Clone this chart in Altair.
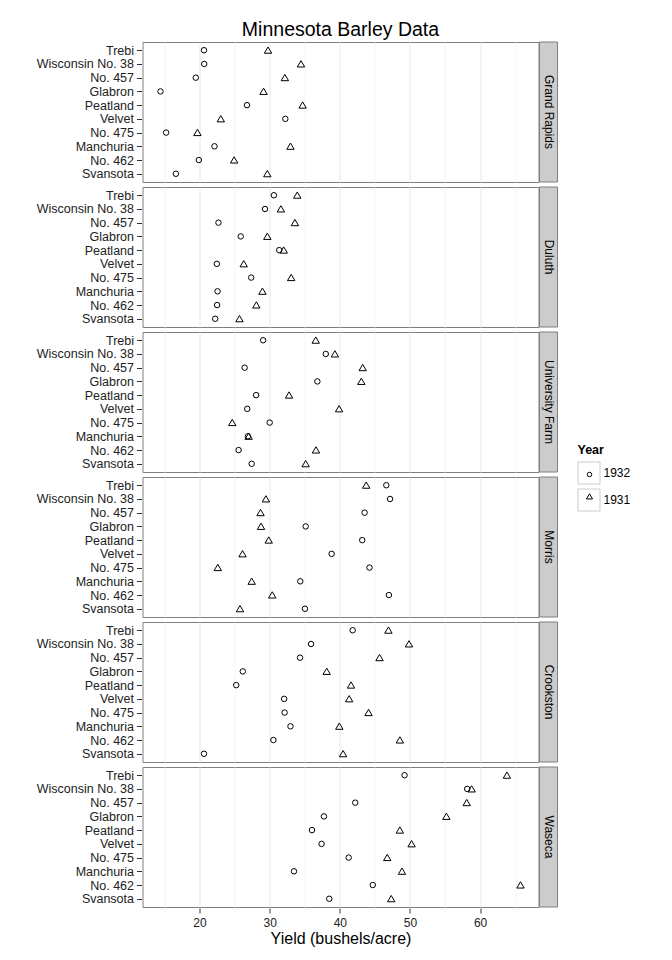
import altair as alt
import pandas as pd

sites = ["Grand Rapids", "Duluth", "University Farm", "Morris", "Crookston", "Waseca"]
varieties = ["Trebi", "Wisconsin No. 38", "No. 457", "Glabron", "Peatland",
             "Velvet", "No. 475", "Manchuria", "No. 462", "Svansota"]
years = ["1932", "1931"]

yield_1932 = {
    "Grand Rapids": [20.63333, 20.66667, 19.46667, 14.43333, 26.76667, 32.23333, 15.23333, 22.13333, 19.9, 16.63333],
    "Duluth": [30.6, 29.33333, 22.7, 25.86667, 31.36667, 22.46667, 27.36667, 22.56667, 22.5, 22.23333],
    "University Farm": [29.06667, 38.0, 26.43334, 36.8, 28.06667, 26.8, 30.0, 26.9, 25.56667, 27.43334],
    "Morris": [46.63333, 47.16667, 43.53334, 35.13333, 43.2, 38.83333, 44.23333, 34.36666, 47.0, 35.03333],
    "Crookston": [41.83333, 35.9, 34.33333, 26.16667, 25.23333, 32.06666, 32.13333, 32.96667, 30.53333, 20.63333],
    "Waseca": [49.2333, 58.16667, 42.2, 37.73333, 36.03333, 37.4, 41.26667, 33.46667, 44.7, 38.5],
}
yield_1931 = {
    "Grand Rapids": [29.76667, 34.46667, 32.16667, 29.13333, 34.7, 23.03333, 19.7, 32.96667, 24.93334, 29.66667],
    "Duluth": [33.93333, 31.6, 33.6, 29.66667, 32.0, 26.3, 33.06666, 28.96667, 28.1, 25.7],
    "University Farm": [36.56666, 39.3, 43.26667, 43.06666, 32.76667, 39.9, 24.66667, 27.0, 36.6, 35.13333],
    "Morris": [43.76667, 29.46667, 28.7, 28.76667, 29.86667, 26.13333, 22.6, 27.43334, 30.36667, 25.76667],
    "Crookston": [46.93333, 49.86667, 45.66667, 38.13333, 41.6, 41.33333, 44.1, 39.93333, 48.56666, 40.46667],
    "Waseca": [63.8333, 58.8, 58.1, 55.2, 48.56666, 50.23333, 46.76667, 48.86667, 65.7667, 47.33333],
}
x_ticks = [15, 20, 25, 30, 35, 40, 45, 50, 55, 60, 65]

rows = []
for s in sites:
    for yr, src in (("1932", yield_1932), ("1931", yield_1931)):
        for v, val in zip(varieties, src[s]):
            rows.append({"site": s, "variety": v, "year": yr, "Year": yr, "yield": val})
df = pd.DataFrame(rows)

FONT = "Liberation Sans"
W, H = 396, 140
lo = min(df["yield"]); hi = max(df["yield"]); pad = (hi - lo) * 0.05

LEG_X, LEG_Y = 435, 402
TRIANGLE = "M0,-1.2L1.35,1.1L-1.35,1.1Z"

points = alt.Chart().mark_point(filled=False, strokeWidth=1, color="black", opacity=1, size=30).encode(
    x=alt.X("yield:Q", title="Yield (bushels/acre)",
            scale=alt.Scale(domain=[lo - pad, hi + pad], nice=False, zero=False),
            axis=alt.Axis(values=x_ticks,
                          labelExpr="datum.value % 10 == 0 ? datum.label : ''",
                          tickColor={"condition": {"test": "datum.value % 10 != 0", "value": "transparent"}, "value": "#333333"},
                          gridColor={"condition": {"test": "datum.value % 10 != 0", "value": "#f5f5f5"}, "value": "#e8e8e8"},
                          domain=False, tickSize=5, labelFontSize=12, labelColor="#222222",
                          titleFontSize=16, titleFontWeight="normal", titlePadding=2, labelPadding=4)),
    y=alt.Y("variety:N", sort=varieties, title=None,
            scale=alt.Scale(type="point", padding=0.6),
            axis=alt.Axis(domain=False, tickSize=5, tickColor="#333333", gridColor="#e8e8e8",
                          labelFontSize=12.5, labelColor="#222222", labelPadding=3)),
    shape=alt.Shape("year:N", sort=years,
                    scale=alt.Scale(range=["circle", TRIANGLE]),
                    legend=alt.Legend(title=None, orient="none", legendX=LEG_X + 6, legendY=LEG_Y + 24.5,
                                      labelExpr="''", labelFontSize=12,
                                      symbolSize=20, rowPadding=10, symbolOpacity=1,
                                      symbolStrokeColor="black", symbolStrokeWidth=1)),
)

legend_boxes = alt.Chart().mark_point(filled=False, opacity=0, shape="square").encode(
    color=alt.Color("Year:N", sort=years,
                    scale=alt.Scale(domain=years, range=["#cccccc", "#cccccc"]),
                    legend=alt.Legend(title="Year", orient="none", legendX=LEG_X, legendY=LEG_Y,
                                      titleFontSize=12.5, titleFontWeight="bold", titleColor="black",
                                      labelFontSize=12, labelColor="black", labelOffset=3,
                                      symbolType="square", symbolSize=484, rowPadding=0,
                                      symbolOpacity=1, symbolStrokeWidth=1)),
)

strip_rect = alt.Chart().transform_aggregate(n="count()", groupby=["site"]).mark_rect(
    fill="#cccccc", stroke="#7f7f7f", strokeWidth=1
).encode(x=alt.value(W + 1), x2=alt.value(W + 19), y=alt.value(0), y2=alt.value(H))

strip_text = alt.Chart().transform_aggregate(n="count()", groupby=["site"]).mark_text(
    angle=90, fontSize=12, font=FONT, color="black", align="center", baseline="middle"
).encode(x=alt.value(W + 10), y=alt.value(H / 2), text="site:N")

chart = alt.layer(points, legend_boxes, strip_rect, strip_text, data=df).properties(
    width=W, height=H
).facet(
    row=alt.Row("site:N", sort=sites, header=alt.Header(labels=False, title=None))
).properties(
    title=alt.TitleParams("Minnesota Barley Data", fontSize=19.5, fontWeight="normal",
                          anchor="middle", frame="group", offset=1, dx=198, color="black"),
    padding={"left": 35.5, "top": 19, "right": 5, "bottom": 5},
    spacing=3,
).configure(font=FONT).configure_view(stroke="#7f7f7f", strokeWidth=1).configure_legend(
    labelFont=FONT, titleFont=FONT
)

chart.save("out.html", embed_options={"renderer": "svg", "actions": False})
